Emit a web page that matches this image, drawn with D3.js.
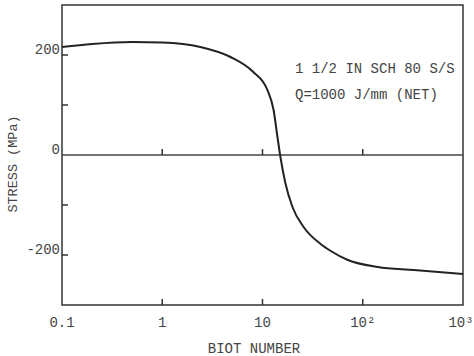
<!DOCTYPE html>
<html>
<head>
<meta charset="utf-8">
<script src="https://cdn.jsdelivr.net/npm/d3@7"></script>
<style>
  body { margin: 0; background: #fff; }
  text { font-family: "Liberation Mono", "DejaVu Sans Mono", monospace; fill: #444; }
</style>
</head>
<body>
<script>
// values
var biot   = [0.1, 0.2, 0.5, 1, 2.4, 4.8, 8.1, 11.2, 12.9, 14.1, 15.1, 16.9, 19.9, 25.7, 38, 48, 71, 141, 324, 1000];
var stress = [216, 222, 226, 225, 216, 196, 166, 130, 90, 36, -4, -56, -104, -144, -178, -192, -210, -224, -230, -238];
var xTicks = [1, 10, 100];
var xLabels = ["0.1", "1", "10", "10\u00b2", "10\u00b3"];
var xLabelVals = [0.1, 1, 10, 100, 1000];
var yTicks = [200, 100, -100, -200];
var yLabels = [200, 0, -200];
var note = ["1 1/2 IN SCH 80 S/S", "Q=1000 J/mm (NET)"];

var width = 474, height = 356;
var m = {left: 62, right: 463, top: 5, bottom: 305};

var svg = d3.select("body").append("svg")
    .attr("width", width)
    .attr("height", height);

var x = d3.scaleLog().domain([0.1, 1000]).range([m.left, m.right]);
var y = d3.scaleLinear().domain([-300, 300]).range([m.bottom, m.top]);

// frame
svg.append("rect")
    .attr("x", m.left).attr("y", m.top)
    .attr("width", m.right - m.left).attr("height", m.bottom - m.top)
    .attr("fill", "none")
    .attr("stroke", "#333")
    .attr("stroke-width", 1.5);

// zero line
svg.append("line")
    .attr("x1", m.left).attr("x2", m.right)
    .attr("y1", y(0)).attr("y2", y(0))
    .attr("stroke", "#444")
    .attr("stroke-width", 1.3);

// ticks on bottom edge and zero line
var tickG = svg.append("g").attr("stroke", "#333").attr("stroke-width", 1.5);
xTicks.forEach(function(t) {
    tickG.append("line")
        .attr("x1", x(t)).attr("x2", x(t))
        .attr("y1", m.bottom).attr("y2", m.bottom - 6);
    tickG.append("line")
        .attr("x1", x(t)).attr("x2", x(t))
        .attr("y1", y(0)).attr("y2", y(0) - 6);
});
yTicks.forEach(function(t) {
    tickG.append("line")
        .attr("x1", m.left).attr("x2", m.left + 6)
        .attr("y1", y(t)).attr("y2", y(t));
});

// x labels
svg.selectAll(".xl")
    .data(xLabelVals)
    .enter()
    .append("text")
    .attr("class", "xl")
    .attr("x", function(d) { return Math.min(x(d), width - 13); })
    .attr("y", 327)
    .attr("text-anchor", "middle")
    .style("font-size", "14px")
    .text(function(d, i) { return xLabels[i]; });

// y labels
svg.selectAll(".yl")
    .data(yLabels)
    .enter()
    .append("text")
    .attr("class", "yl")
    .attr("x", m.left - 2)
    .attr("y", function(d) { return y(d) - 1; })
    .attr("text-anchor", "end")
    .style("font-size", "14px")
    .text(function(d) { return d; });

// axis titles
svg.append("text")
    .attr("x", 254)
    .attr("y", 353)
    .attr("text-anchor", "middle")
    .style("font-size", "14px")
    .text("BIOT NUMBER");

svg.append("text")
    .attr("transform", "translate(17,164) rotate(-90)")
    .attr("text-anchor", "middle")
    .style("font-size", "13.5px")
    .text("STRESS (MPa)");

// note
svg.selectAll(".note")
    .data(note)
    .enter()
    .append("text")
    .attr("class", "note")
    .attr("x", 295)
    .attr("y", function(d, i) { return 73 + i * 26; })
    .style("font-size", "14px")
    .text(function(d) { return d; });

// curve
var pts = biot.map(function(b, i) { return [b, stress[i]]; });
var line = d3.line()
    .x(function(d) { return x(d[0]); })
    .y(function(d) { return y(d[1]); })
    .curve(d3.curveMonotoneX);

svg.append("path")
    .datum(pts)
    .attr("d", line)
    .attr("fill", "none")
    .attr("stroke", "#222")
    .attr("stroke-width", 2);
</script>
</body>
</html>
